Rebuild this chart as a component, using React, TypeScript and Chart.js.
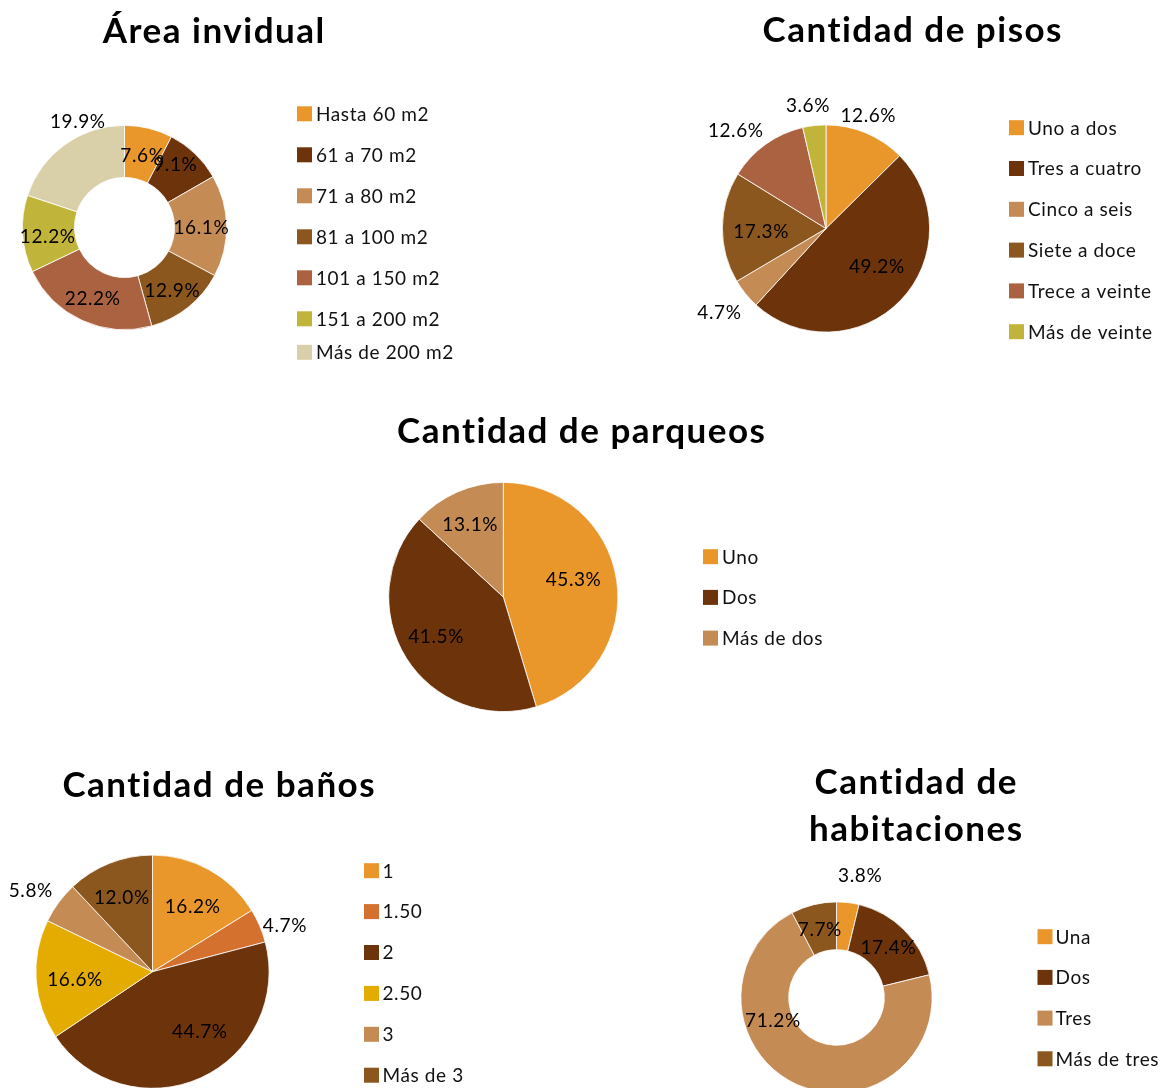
import React, { useEffect, useRef } from "react";
import { Chart, registerables } from "chart.js";

Chart.register(...registerables);

// ---------- data ----------
const areaLabels = ["Hasta 60 m2", "61 a 70 m2", "71 a 80 m2", "81 a 100 m2", "101 a 150 m2", "151 a 200 m2", "Más de 200 m2"];
const areaValues = [7.6, 9.1, 16.1, 12.9, 22.2, 12.2, 19.9];

const pisosLabels = ["Uno a dos", "Tres a cuatro", "Cinco a seis", "Siete a doce", "Trece a veinte", "Más de veinte"];
const pisosValues = [12.6, 49.2, 4.7, 17.3, 12.6, 3.6];

const parqueosLabels = ["Uno", "Dos", "Más de dos"];
const parqueosValues = [45.3, 41.5, 13.1];

const banosLabels = ["1", "1.50", "2", "2.50", "3", "Más de 3"];
const banosValues = [16.2, 4.7, 44.7, 16.6, 5.8, 12.0];

const habLabels = ["Una", "Dos", "Tres", "Más de tres"];
const habValues = [3.8, 17.4, 71.2, 7.7];

// ---------- styles ----------
const ORANGE = "#E9962B";
const DARK = "#6D330B";
const TAN = "#C58B55";
const BROWN = "#8B571E";
const RUST = "#AB6240";
const OLIVE = "#C1B43B";
const BEIGE = "#D9CFA8";
const DORANGE = "#D4712E";
const GOLD = "#E4AB00";

const FONT = "Lato, 'Open Sans', sans-serif";
const TITLE_SIZE = 35;
const TITLE_SPACING = 1.5;
const TEXT_SIZE = 19;
const TEXT_SPACING = 0.6;
const CAP = 0.7165;

// label placement: [radius factor, angle shift in degrees]
const areaLabelPlace: [number, number][] = [[0.73, 0], [0.79, -5], [0.75, 1], [0.77, 1.5], [0.76, 0], [0.76, -3], [1.14, 12]];
const pisosLabelPlace: [number, number][] = [[1.17, -2.4], [0.61, -7], [1.31, 1], [0.63, -3], [1.29, -7], [1.2, -2]];
const parqueosLabelPlace: [number, number][] = [[0.63, -6], [0.68, 2], [0.7, -1]];
const banosLabelPlace: [number, number][] = [[0.66, 2], [1.2, 4], [0.65, -14], [0.67, -1.5], [1.26, -2.5], [0.69, -1]];
const habLabelPlace: [number, number][] = [[1.3, 4], [0.75, 1], [0.71, 46], [0.74, 0]];

type Spec = {
  type: "pie" | "doughnut";
  labels: string[];
  values: number[];
  colors: string[];
  region: { x: number; y: number; w: number; h: number };
  center: { x: number; y: number; r: number };
  cutout: string | number;
  title: { lines: string[]; x: number; baselines: number[] };
  legend: { boxX: number; textX: number; firstY: number; gap: number; lastGap?: number; box: number };
  labelPlace: [number, number][];
};

const specs: Spec[] = [
  {
    type: "doughnut",
    labels: areaLabels,
    values: areaValues,
    colors: [ORANGE, DARK, TAN, BROWN, RUST, OLIVE, BEIGE],
    region: { x: 0, y: 0, w: 470, h: 380 },
    center: { x: 124.5, y: 227.5, r: 102.5 },
    cutout: "49%",
    title: { lines: ["Área invidual"], x: 213.5, baselines: [43] },
    legend: { boxX: 297, textX: 316, firstY: 113.8, gap: 41, lastGap: 33.5, box: 15 },
    labelPlace: areaLabelPlace,
  },
  {
    type: "pie",
    labels: pisosLabels,
    values: pisosValues,
    colors: [ORANGE, DARK, TAN, BROWN, RUST, OLIVE],
    region: { x: 680, y: 0, w: 483, h: 380 },
    center: { x: 826, y: 228.5, r: 104 },
    cutout: 0,
    title: { lines: ["Cantidad de pisos"], x: 912, baselines: [42] },
    legend: { boxX: 1009, textX: 1028, firstY: 127.7, gap: 40.8, box: 15 },
    labelPlace: pisosLabelPlace,
  },
  {
    type: "pie",
    labels: parqueosLabels,
    values: parqueosValues,
    colors: [ORANGE, DARK, TAN],
    region: { x: 370, y: 390, w: 480, h: 340 },
    center: { x: 503.3, y: 597, r: 115 },
    cutout: 0,
    title: { lines: ["Cantidad de parqueos"], x: 581, baselines: [443] },
    legend: { boxX: 703, textX: 722, firstY: 556.7, gap: 40.7, box: 15 },
    labelPlace: parqueosLabelPlace,
  },
  {
    type: "pie",
    labels: banosLabels,
    values: banosValues,
    colors: [ORANGE, DORANGE, DARK, GOLD, TAN, BROWN],
    region: { x: 0, y: 740, w: 480, h: 360 },
    center: { x: 152.5, y: 971.7, r: 117 },
    cutout: 0,
    title: { lines: ["Cantidad de baños"], x: 218.5, baselines: [796.5] },
    legend: { boxX: 364, textX: 382.5, firstY: 870.7, gap: 40.9, box: 15 },
    labelPlace: banosLabelPlace,
  },
  {
    type: "doughnut",
    labels: habLabels,
    values: habValues,
    colors: [ORANGE, DARK, TAN, BROWN],
    region: { x: 700, y: 740, w: 463, h: 360 },
    center: { x: 836.5, y: 997.5, r: 96 },
    cutout: "50%",
    title: { lines: ["Cantidad de", "habitaciones"], x: 915.5, baselines: [793.5, 840.5] },
    legend: { boxX: 1037.5, textX: 1055.5, firstY: 936.7, gap: 40.7, box: 15 },
    labelPlace: habLabelPlace,
  },
];

function setSpacing(ctx: any, px: number) {
  if ("letterSpacing" in ctx) ctx.letterSpacing = `${px}px`;
}

const decoPlugin = {
  id: "deco",
  afterDraw(chart: any, _args: any, opts: any) {
    const spec: Spec = opts.spec;
    if (!spec) return;
    const ctx: CanvasRenderingContext2D = chart.ctx;
    const ox = spec.region.x;
    const oy = spec.region.y;
    ctx.save();
    // title
    ctx.fillStyle = "#000";
    ctx.font = `bold ${TITLE_SIZE}px ${FONT}`;
    setSpacing(ctx, TITLE_SPACING);
    ctx.textAlign = "center";
    ctx.textBaseline = "alphabetic";
    spec.title.lines.forEach((t, i) =>
      ctx.fillText(t, spec.title.x - ox + TITLE_SPACING / 2, spec.title.baselines[i] - oy)
    );

    // legend
    const ds = chart.data.datasets[0];
    const labels: string[] = chart.data.labels;
    const n = labels.length;
    const lg = spec.legend;
    ctx.font = `${TEXT_SIZE}px ${FONT}`;
    setSpacing(ctx, TEXT_SPACING);
    ctx.textAlign = "left";
    labels.forEach((lab, i) => {
      let cy = lg.firstY + i * lg.gap;
      if (i === n - 1 && lg.lastGap) cy = lg.firstY + (n - 2) * lg.gap + lg.lastGap;
      ctx.fillStyle = ds.backgroundColor[i];
      ctx.fillRect(lg.boxX - ox, cy - lg.box / 2 - oy, lg.box, lg.box);
      ctx.fillStyle = "#111";
      ctx.fillText(lab, lg.textX - ox, cy + (TEXT_SIZE * CAP) / 2 - oy);
    });

    // data labels
    const meta = chart.getDatasetMeta(0);
    ctx.textAlign = "center";
    ctx.fillStyle = "#000";
    meta.data.forEach((arc: any, i: number) => {
      const p = arc.getProps(["x", "y", "startAngle", "endAngle", "outerRadius"], true);
      const [f, da] = spec.labelPlace[i];
      const a = (p.startAngle + p.endAngle) / 2 + (da * Math.PI) / 180;
      const lx = p.x + Math.cos(a) * p.outerRadius * f;
      const ly = p.y + Math.sin(a) * p.outerRadius * f;
      ctx.fillText(`${Number(ds.data[i]).toFixed(1)}%`, lx + TEXT_SPACING / 2, ly + (TEXT_SIZE * CAP) / 2);
    });
    ctx.restore();
  },
};

function PieBlock({ spec }: { spec: Spec }) {
  const ref = useRef<HTMLCanvasElement>(null);
  useEffect(() => {
    const c = ref.current;
    if (!c) return;
    const { region, center } = spec;
    const padding = {
      left: center.x - center.r - region.x,
      right: region.x + region.w - (center.x + center.r),
      top: center.y - center.r - region.y,
      bottom: region.y + region.h - (center.y + center.r),
    };
    const chart = new Chart(c, {
      type: spec.type,
      data: {
        labels: spec.labels,
        datasets: [
          {
            data: spec.values,
            backgroundColor: spec.colors,
            borderColor: "#ffffff",
            borderWidth: 0.8,
          },
        ],
      },
      options: {
        animation: false,
        responsive: false,
        maintainAspectRatio: false,
        events: [],
        cutout: spec.cutout,
        layout: { padding },
        plugins: {
          legend: { display: false },
          tooltip: { enabled: false },
          title: { display: false },
          deco: { spec },
        } as any,
      } as any,
      plugins: [decoPlugin as any],
    });
    return () => chart.destroy();
  }, [spec]);
  return (
    <canvas
      ref={ref}
      width={spec.region.w}
      height={spec.region.h}
      style={{
        position: "absolute",
        left: spec.region.x,
        top: spec.region.y,
        width: spec.region.w,
        height: spec.region.h,
      }}
    />
  );
}

export default function App() {
  return (
    <div
      style={{
        position: "absolute",
        left: 0,
        top: 0,
        width: 1163,
        height: 1088,
        overflow: "hidden",
        background: "#ffffff",
      }}
    >
      {specs.map((s, i) => (
        <PieBlock key={i} spec={s} />
      ))}
    </div>
  );
}
